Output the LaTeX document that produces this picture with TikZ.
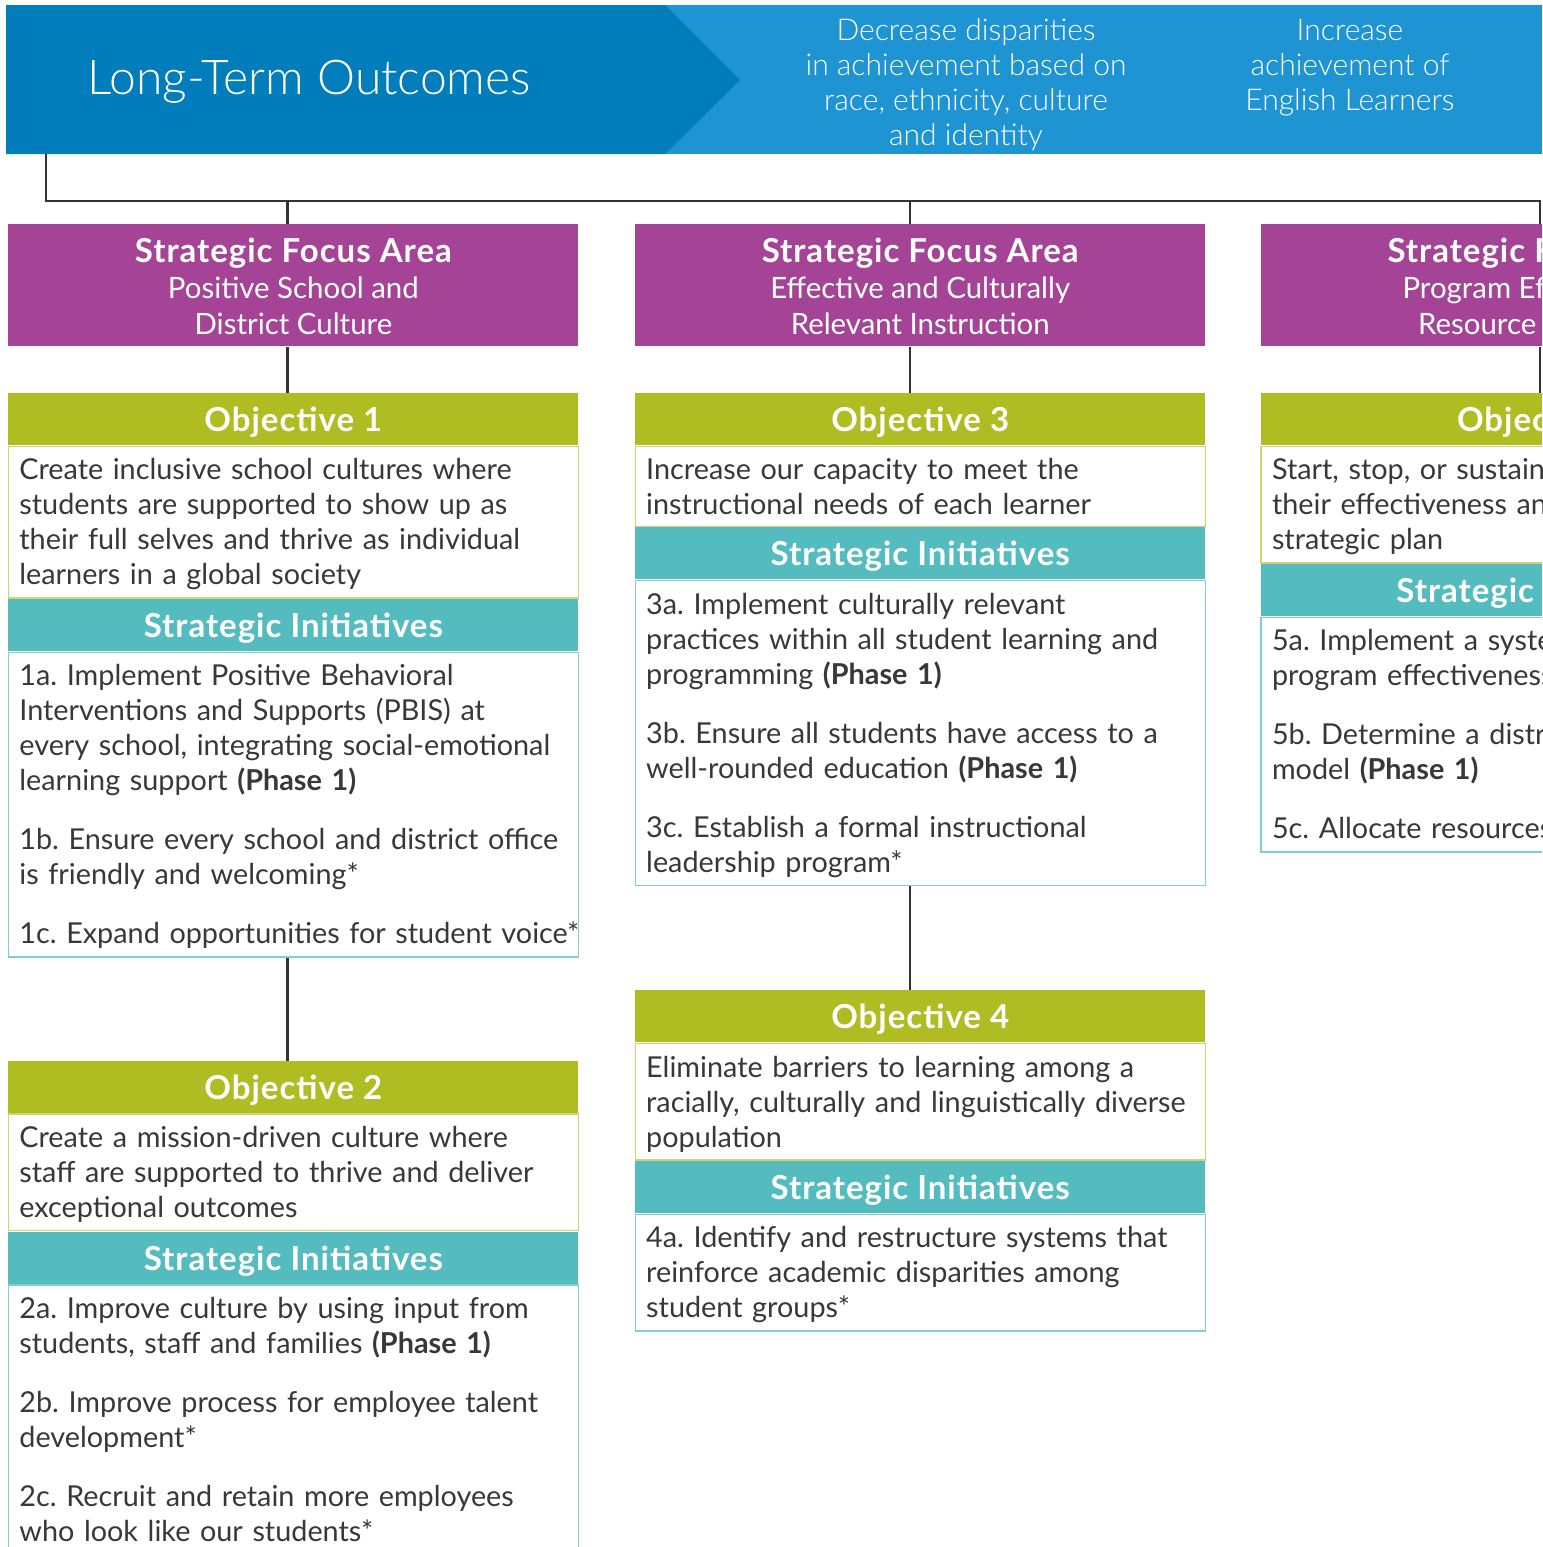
\documentclass[tikz,border=0pt]{standalone}
\usepackage{fontspec}
\setmainfont{Lato}
\newfontfamily\headfont{Lato}[LetterSpace=3]
\newfontfamily\lightfont{Lato Light}
\usepackage{tikz}
\usetikzlibrary{positioning, calc}
\definecolor{ltodark}{HTML}{027DBB}
\definecolor{ltolight}{HTML}{1E94D2}
\definecolor{focuscol}{HTML}{A54497}
\definecolor{objcol}{HTML}{AFBC22}
\definecolor{inicol}{HTML}{54BCBF}
\definecolor{objline}{HTML}{CDD56E}
\definecolor{iniline}{HTML}{7FCFCF}
\definecolor{txtcol}{HTML}{383838}
\definecolor{linkcol}{HTML}{333333}
\frenchspacing

\begin{document}
\begin{tikzpicture}[
   x=0.5pt, y=-0.5pt, node distance = 23pt and 28pt,
   font=\fontsize{14.4}{17.5}\selectfont,
   focus/.style = {rectangle, fill=focuscol, text=white, minimum width=285pt,
                   minimum height=61pt, inner sep=0pt, align=center,
                   font=\fontsize{14.7}{18}\selectfont},
   objhead/.style = {rectangle, fill=objcol, text=white, minimum width=285pt,
                     minimum height=26pt, inner sep=0pt, text depth=0pt,
                     font=\fontsize{16.5}{18}\headfont\bfseries},
   inihead/.style = {objhead, fill=inicol},
   objbody/.style = {rectangle, draw=objline, line width=0.7pt, fill=white, text=txtcol,
                     text width=274pt, inner xsep=5.5pt, inner ysep=4pt, align=left,
                     execute at begin node=\rule{0pt}{12.8pt},
                     execute at end node=\rule[-1.7pt]{0pt}{1.7pt}},
   inibody/.style = {objbody, draw=iniline},
   outcome/.style = {text=white, align=center, inner sep=0pt,
                     font=\fontsize{15}{17.5}\lightfont},
   link/.style = {draw=linkcol, line width=1.2pt}]
  \useasboundingbox (0,0) rectangle (1542,1547);
  \clip (0,0) rectangle (1542,1547);

  % banner
  \fill[ltolight] (6,5) rectangle (1600,154);
  \fill[ltodark] (6,5) -- (665,5) -- (740,80) -- (665,154) -- (6,154) -- cycle;
  \node[anchor=base west, inner sep=0pt, text=white, font=\fontsize{24}{27}\lightfont]
       (lto) at (87,94) {Long-Term Outcomes};
  \node[outcome] (out1) at (966,85) {Decrease disparities\\in achievement based on\\race, ethnicity, culture\\and identity};
  \node[outcome] (out2) at (1350,68) {Increase\\achievement of\\English Learners};

  % focus areas
  \node[focus, anchor=north west] (fa1) at (8,224)
       {\rule{0pt}{13.5pt}{\fontsize{16.5}{18}\headfont\bfseries Strategic Focus Area}\\Positive School and\\District Culture};
  \node[focus, right=28pt of fa1] (fa2)
       {\rule{0pt}{13.5pt}{\fontsize{16.5}{18}\headfont\bfseries Strategic Focus Area}\\Effective and Culturally\\Relevant Instruction};
  \node[focus, right=27.5pt of fa2] (fa3)
       {\rule{0pt}{13.5pt}{\fontsize{16.5}{18}\headfont\bfseries Strategic Focus Area}\\Program Effectiveness\\Resource Allocation};

  % column 1
  \node[objhead, below=of fa1] (o1h) {Objective 1};
  \node[objbody, below=0pt of o1h] (o1) {Create inclusive school cultures where\\students are supported to show up as\\their full selves and thrive as individual\\learners in a global society};
  \node[inihead, below=0pt of o1] (i1h) {Strategic Initiatives};
  \node[inibody, below=0pt of i1h] (i1) {1a. Implement Positive Behavioral\\Interventions and Supports (PBIS) at\\every school, integrating social-emotional\\learning support \textbf{(Phase 1)}\\[12pt]1b. Ensure every school and district office\\is friendly and welcoming*\\[12pt]\mbox{1c. Expand opportunities for student voice*}};
  \node[objhead, below=51.5pt of i1] (o2h) {Objective 2};
  \node[objbody, below=0pt of o2h] (o2) {Create a mission-driven culture where\\staff are supported to thrive and deliver\\exceptional outcomes};
  \node[inihead, below=0pt of o2] (i2h) {Strategic Initiatives};
  \node[inibody, below=0pt of i2h] (i2) {2a. Improve culture by using input from\\students, staff and families \textbf{(Phase 1)}\\[12pt]2b. Improve process for employee talent\\development*\\[12pt]2c. Recruit and retain more employees\\who look like our students*};

  % column 2
  \node[objhead, below=of fa2] (o3h) {Objective 3};
  \node[objbody, below=0pt of o3h] (o3) {Increase our capacity to meet the\\instructional needs of each learner};
  \node[inihead, below=0pt of o3] (i3h) {Strategic Initiatives};
  \node[inibody, below=0pt of i3h] (i3) {3a. Implement culturally relevant\\practices within all student learning and\\programming \textbf{(Phase 1)}\\[12pt]3b. Ensure all students have access to a\\well-rounded education \textbf{(Phase 1)}\\[12pt]3c. Establish a formal instructional\\leadership program*};
  \node[objhead, below=52pt of i3] (o4h) {Objective 4};
  \node[objbody, below=0pt of o4h] (o4) {Eliminate barriers to learning among a\\racially, culturally and linguistically diverse\\population};
  \node[inihead, below=0pt of o4] (i4h) {Strategic Initiatives};
  \node[inibody, below=0pt of i4h] (i4) {4a. Identify and restructure systems that\\reinforce academic disparities among\\student groups*};

  % column 3
  \node[objhead, below=of fa3] (o5h) {Objective 5};
  \node[objbody, below=0pt of o5h] (o5) {Start, stop, or sustain programs\\their effectiveness and alignment\\strategic plan};
  \node[inihead, below=0pt of o5] (i5h) {Strategic Initiatives};
  \node[inibody, below=0pt of i5h] (i5) {5a. Implement a system to measure\\program effectiveness \textbf{(Phase 1)}\\[12pt]5b. Determine a district budgeting\\model \textbf{(Phase 1)}\\[12pt]5c. Allocate resources equitably*};

  % connectors
  \coordinate (hdrfoot) at (46,154);
  \coordinate (d1) at ([xshift=-3pt]fa1.north);
  \coordinate (d2) at ([xshift=-5pt]fa2.north);
  \coordinate (d3) at ([xshift=-3pt]fa3.north);
  \draw[link] (hdrfoot) |- ($(d3)+(0,-23)$) -- (d3);
  \draw[link] ($(d1)+(0,-23)$) -- (d1);
  \draw[link] ($(d2)+(0,-23)$) -- (d2);
  \draw[link] (fa1.south -| d1) -- (o1h.north -| d1);
  \draw[link] (i1.south -| d1) -- (o2h.north -| d1);
  \draw[link] (fa2.south -| d2) -- (o3h.north -| d2);
  \draw[link] (i3.south -| d2) -- (o4h.north -| d2);
  \draw[link] (fa3.south -| d3) -- (o5h.north -| d3);
\end{tikzpicture}
\end{document}
